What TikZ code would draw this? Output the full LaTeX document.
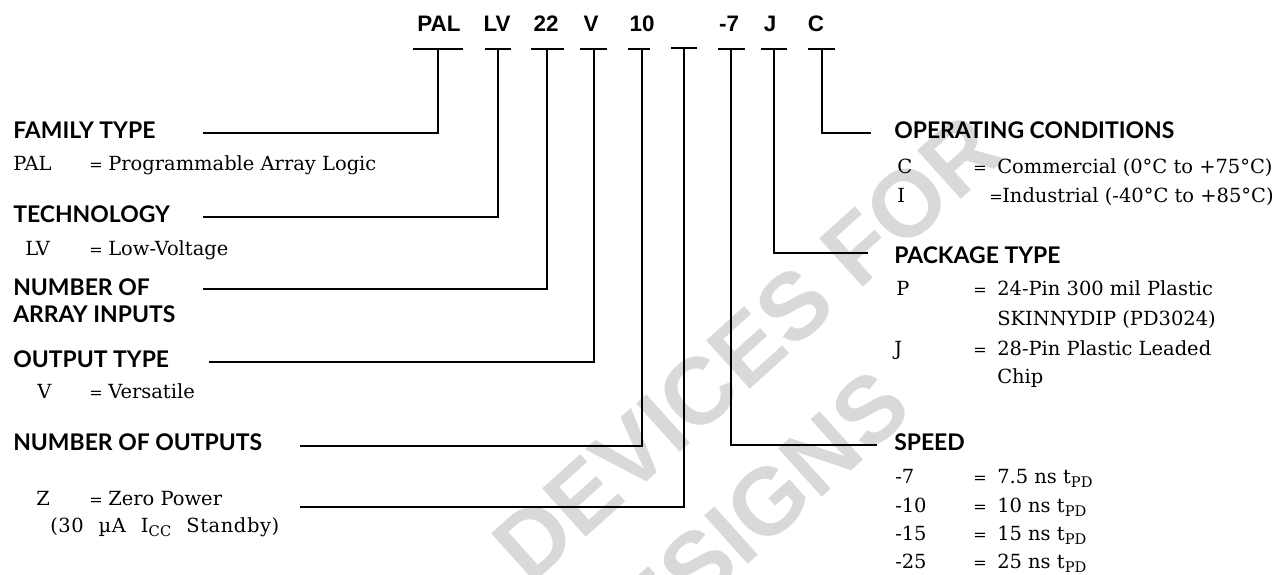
\documentclass[tikz,border=0pt]{standalone}
\usepackage{fontspec}
\usetikzlibrary{calc}
\setmainfont{DejaVu Serif}
\newfontfamily\codefont{Liberation Sans}
\newfontfamily\headfont{Lato}
\newfontfamily\widefont[LetterSpace=3,WordSpace=2.2]{DejaVu Serif}
\definecolor{wmgray}{RGB}{217,217,217}
\newcommand\subs[1]{\raisebox{-0.4ex}{\fontsize{11}{11}\selectfont #1}}
\begin{document}
\begin{tikzpicture}[x=0.75pt,y=-0.75pt,
  code/.style={font=\codefont\bfseries\fontsize{16.8}{18}\selectfont, inner sep=0},
  head/.style={font=\headfont\bfseries\fontsize{17.2}{18}\selectfont, anchor=base west, inner sep=0},
  body/.style={font=\fontsize{14.6}{18}\selectfont, anchor=base west, inner sep=0},
  eq/.style={font=\fontsize{12}{14}\selectfont, anchor=base west, inner sep=0},
  conn/.style={line width=1.9pt, line cap=butt, line join=miter},
  wm/.style={font=\codefont\bfseries\fontsize{71}{72}\selectfont, text=wmgray, rotate=42, inner sep=0}]
\clip (0,0) rectangle (1279,575);
\fill[white] (0,0) rectangle (1279,575);
% watermark
\node[wm] (wm1) at (747,348) {DEVICES FOR};
\node[wm] (wm2) at (735,532) {DESIGNS};
% code letters
\node[code] (cPAL) at (439,24) {PAL};
\node[code] (cLV)  at (497,24) {LV};
\node[code] (c22)  at (546,24) {22};
\node[code] (cV)   at (591,24) {V};
\node[code] (c10)  at (642,24) {10};
\node[code] (c7)   at (729,24) {-7};
\node[code] (cJ)   at (770,24) {J};
\node[code] (cC)   at (816,24) {C};
% tick tops
\coordinate (tPAL) at (438,49);
\coordinate (tLV)  at (498,49);
\coordinate (t22)  at (547,49);
\coordinate (tV)   at (594,49);
\coordinate (t10)  at (642,49);
\coordinate (tBL)  at (684,48);
\coordinate (t7)   at (731,49);
\coordinate (tJ)   at (774,49);
\coordinate (tC)   at (822,49);
\newcommand\tbar[3]{\draw[conn] ($(#1)+(#2,0)$) -- ($(#1)+(#3,0)$);}
\tbar{tPAL}{-25}{25}
\tbar{tLV}{-13}{13}
\tbar{t22}{-16}{17}
\tbar{tV}{-14}{13}
\tbar{t10}{-14}{8}
\tbar{tBL}{-13}{13}
\tbar{t7}{-13}{14}
\tbar{tJ}{-13}{13}
\tbar{tC}{-14}{13}
% connector ends
\coordinate (eFAM) at (203,133);
\coordinate (eTEC) at (203,217);
\coordinate (eNUM) at (203,289);
\coordinate (eOUT) at (209,362);
\coordinate (eNOO) at (300,446);
\coordinate (eZ)   at (300,507);
\coordinate (eOP)  at (871,133);
\coordinate (ePK)  at (868,253);
\coordinate (eSP)  at (877,445);
\draw[conn] (tPAL) |- (eFAM);
\draw[conn] (tLV) |- (eTEC);
\draw[conn] (t22) |- (eNUM);
\draw[conn] (tV) |- (eOUT);
\draw[conn] (t10) |- (eNOO);
\draw[conn] (tBL) |- (eZ);
\draw[conn] (t7) |- (eSP);
\draw[conn] (tJ) |- (ePK);
\draw[conn] (tC) |- (eOP);
% left column
\node[head] (hFAM) at (13,138) {FAMILY TYPE};
\node[body] (kPAL) at (13,170) {PAL};
\node[eq] (qPAL) at (89,170) {=};
\node[body] (vPAL) at (108,170) {Programmable Array Logic};
\node[head] (hTEC) at (13,222) {TECHNOLOGY};
\node[body] (kLV) at (25,255) {LV};
\node[eq] (qLV) at (89,255) {=};
\node[body] (vLV) at (108,255) {Low-Voltage};
\node[head] (hNUM) at (13,295) {NUMBER OF};
\node[head] (hNUM2) at (13,322) {ARRAY INPUTS};
\node[head] (hOUT) at (13,367) {OUTPUT TYPE};
\node[body] (kV) at (37,398) {V};
\node[eq] (qV) at (89,398) {=};
\node[body] (vV) at (108,398) {Versatile};
\node[head] (hNOO) at (13,450) {NUMBER OF OUTPUTS};
\node[body] (kZ) at (36,505) {Z};
\node[eq] (qZ) at (89,505) {=};
\node[body] (vZ) at (108,505) {Zero Power};
\node[body, font=\widefont\fontsize{14.6}{18}\selectfont] (vZ2) at (50,532) {(30 µA I\subs{CC} Standby)};
% right column
\node[head] (hOP) at (894,138) {OPERATING CONDITIONS};
\node[body] (kC) at (897,173) {C};
\node[eq] (qC) at (973,173) {=};
\node[body] (vC) at (997,173) {Commercial (0°C to +75°C)};
\node[body] (kI) at (897,202) {I};
\node[eq] (qI) at (989,202) {=};
\node[body] (vI) at (1002,202) {Industrial (-40°C to +85°C)};
\node[head] (hPK) at (894,263) {PACKAGE TYPE};
\node[body] (kP) at (896,295) {P};
\node[eq] (qP) at (973,295) {=};
\node[body] (vP) at (997,295) {24-Pin 300 mil Plastic};
\node[body] (vP2) at (997,325) {SKINNYDIP (PD3024)};
\node[body] (kJ) at (894,355) {J};
\node[eq] (qJ) at (973,355) {=};
\node[body] (vJ) at (997,355) {28-Pin Plastic Leaded};
\node[body] (vJ2) at (997,383) {Chip};
\node[head] (hSP) at (894,450) {SPEED};
\node[body] (k7) at (895,483) {-7};
\node[eq] (q7) at (973,483) {=};
\node[body] (v7) at (997,483) {7.5 ns t\subs{PD}};
\node[body] (k10) at (895,512) {-10};
\node[eq] (q10) at (973,512) {=};
\node[body] (v10) at (997,512) {10 ns t\subs{PD}};
\node[body] (k15) at (895,540) {-15};
\node[eq] (q15) at (973,540) {=};
\node[body] (v15) at (997,540) {15 ns t\subs{PD}};
\node[body] (k25) at (895,568) {-25};
\node[eq] (q25) at (973,568) {=};
\node[body] (v25) at (997,568) {25 ns t\subs{PD}};
\end{tikzpicture}
\end{document}
